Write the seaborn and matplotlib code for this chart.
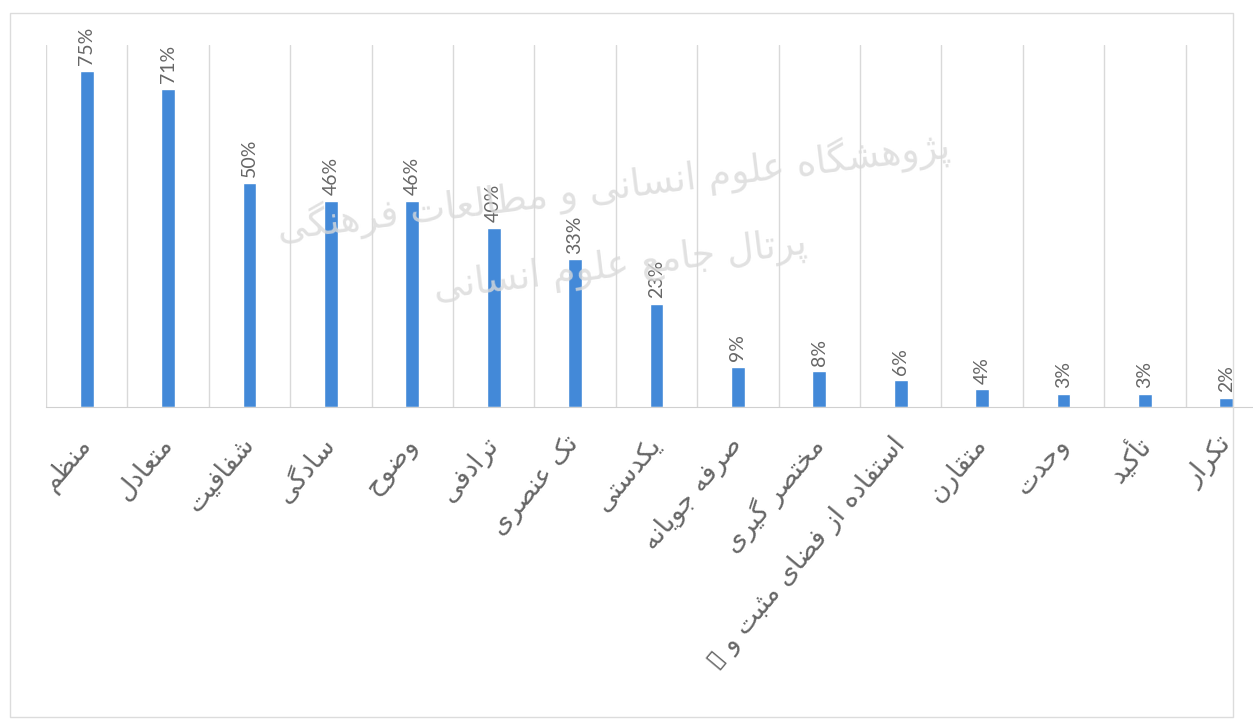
import matplotlib
matplotlib.use('Agg')
import matplotlib.pyplot as plt
import seaborn as sns
from matplotlib.patches import Rectangle

categories = ['منظم', 'متعادل', 'شفافیت', 'سادگی', 'وضوح', 'ترادفی', 'تک عنصری', 'یکدستی',
              'صرفه جویانه', 'مختصر گیری', 'استفاده از فضای مثبت و \u25af', 'متقارن', 'وحدت',
              'تأکید', 'تکرار']
values = [75, 71, 50, 46, 46, 40, 33, 23, 9, 8, 6, 4, 3, 3, 2]
value_labels = [f'{v}%' for v in values]
watermark_1 = 'پژوهشگاه علوم انسانی و مطالعات فرهنگی'
watermark_2 = 'پرتال جامع علوم انسانی'

# matplotlib has no arabic shaping, so pick the presentation forms by hand
# (isolated, final, initial, medial); two-form letters do not join to the next one
FORMS = {
    'ا': (0xFE8D, 0xFE8E), 'أ': (0xFE83, 0xFE84), 'د': (0xFEA9, 0xFEAA), 'ذ': (0xFEAB, 0xFEAC),
    'ر': (0xFEAD, 0xFEAE), 'ز': (0xFEAF, 0xFEB0), 'ژ': (0xFB8A, 0xFB8B), 'و': (0xFEED, 0xFEEE),
    'ب': (0xFE8F, 0xFE90, 0xFE91, 0xFE92), 'پ': (0xFB56, 0xFB57, 0xFB58, 0xFB59),
    'ت': (0xFE95, 0xFE96, 0xFE97, 0xFE98), 'ث': (0xFE99, 0xFE9A, 0xFE9B, 0xFE9C),
    'ج': (0xFE9D, 0xFE9E, 0xFE9F, 0xFEA0), 'ح': (0xFEA1, 0xFEA2, 0xFEA3, 0xFEA4),
    'خ': (0xFEA5, 0xFEA6, 0xFEA7, 0xFEA8), 'س': (0xFEB1, 0xFEB2, 0xFEB3, 0xFEB4),
    'ش': (0xFEB5, 0xFEB6, 0xFEB7, 0xFEB8), 'ص': (0xFEB9, 0xFEBA, 0xFEBB, 0xFEBC),
    'ض': (0xFEBD, 0xFEBE, 0xFEBF, 0xFEC0), 'ط': (0xFEC1, 0xFEC2, 0xFEC3, 0xFEC4),
    'ظ': (0xFEC5, 0xFEC6, 0xFEC7, 0xFEC8), 'ع': (0xFEC9, 0xFECA, 0xFECB, 0xFECC),
    'ف': (0xFED1, 0xFED2, 0xFED3, 0xFED4), 'ق': (0xFED5, 0xFED6, 0xFED7, 0xFED8),
    'ک': (0xFB8E, 0xFB8F, 0xFB90, 0xFB91), 'گ': (0xFB92, 0xFB93, 0xFB94, 0xFB95),
    'ل': (0xFEDD, 0xFEDE, 0xFEDF, 0xFEE0), 'م': (0xFEE1, 0xFEE2, 0xFEE3, 0xFEE4),
    'ن': (0xFEE5, 0xFEE6, 0xFEE7, 0xFEE8), 'ه': (0xFEE9, 0xFEEA, 0xFEEB, 0xFEEC),
    'ی': (0xFBFC, 0xFBFD, 0xFBFE, 0xFBFF),
}


def shape(text):
    out = []
    for i, ch in enumerate(text):
        if ch not in FORMS:
            out.append(ch)
            continue
        forms = FORMS[ch]
        prev = text[i - 1] if i > 0 else ''
        nxt = text[i + 1] if i + 1 < len(text) else ''
        join_prev = prev in FORMS and len(FORMS[prev]) == 4
        join_next = len(forms) == 4 and nxt in FORMS
        if join_prev and join_next:
            out.append(chr(forms[3]))
        elif join_prev:
            out.append(chr(forms[1]))
        elif join_next:
            out.append(chr(forms[2]))
        else:
            out.append(chr(forms[0]))
    return ''.join(reversed(out))


shaped = [shape(c) for c in categories]

sns.set_style('white')
plt.rcParams['font.family'] = ['DejaVu Sans']

fig = plt.figure(figsize=(12.53, 7.2), dpi=100)
ax = fig.add_axes([46 / 1253, 1 - 407 / 720, 1221 / 1253, 362 / 720])

sns.barplot(x=shaped, y=values, color='#4389d8', saturation=1, width=0.17, ax=ax)
ax.bar_label(ax.containers[0], labels=value_labels, rotation=90, padding=4,
             color='#666666', fontsize=14, family='Lato')

ax.set_xlim(-0.5, len(values) - 0.5)
ax.set_ylim(0, 80.8)
ax.set_yticks([])
ax.set_xticks([i - 0.5 for i in range(len(values))], minor=True)
ax.grid(which='minor', axis='x', color='#d9d9d9', linewidth=1)
ax.tick_params(axis='x', which='both', length=0)
ax.tick_params(axis='x', which='major', pad=24)
for sp in ['top', 'left', 'right']:
    ax.spines[sp].set_visible(False)
ax.spines['bottom'].set_color('#d0d0d0')
for lbl in ax.get_xticklabels():
    lbl.set_rotation(50)
    lbl.set_ha('right')
    lbl.set_va('center')
    lbl.set_rotation_mode('anchor')
    lbl.set_fontsize(19)
    lbl.set_color('#666666')

fig.text(0.49, 0.74, shape(watermark_1), fontsize=27, color='#dadada', alpha=0.8,
         rotation=7, ha='center', va='center', zorder=0)
fig.text(0.495, 0.63, shape(watermark_2), fontsize=27, color='#dadada', alpha=0.8,
         rotation=7, ha='center', va='center', zorder=0)

fig.patches.append(Rectangle((10 / 1253, 3 / 720), 1223 / 1253, 704 / 720, transform=fig.transFigure,
                             fill=False, edgecolor='#dcdcdc', linewidth=1))

plt.savefig('out.png', dpi=100)
